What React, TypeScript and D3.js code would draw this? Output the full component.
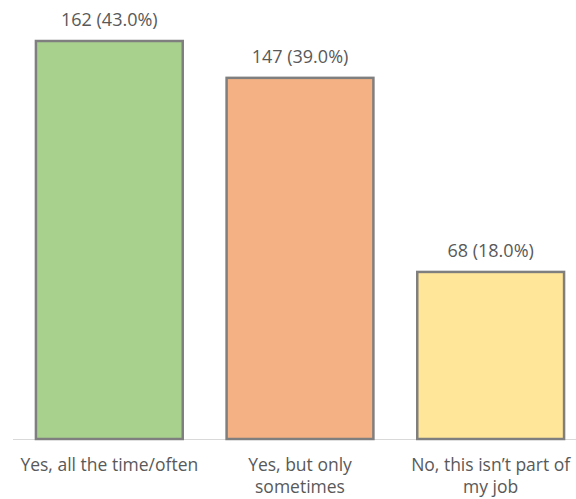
import React from "react";
import * as d3 from "d3";

const categories = [
  ["Yes, all the time/often"],
  ["Yes, but only", "sometimes"],
  ["No, this isn\u2019t part of", "my job"],
];
const counts = [162, 147, 68];
const percents = [43.0, 39.0, 18.0];
const fills = ["#A9D18E", "#F4B183", "#FFE699"];

const W = 576;
const H = 499;
const FONT = "'Open Sans', 'Noto Sans', sans-serif";

export default function App() {
  const x = d3
    .scaleBand<number>()
    .domain(d3.range(counts.length))
    .range([14, 586])
    .paddingInner(0.23)
    .paddingOuter(0.115);
  const y = d3.scaleLinear().domain([0, 162]).range([439, 41]);

  return (
    <svg
      width={W}
      height={H}
      style={{ position: "absolute", left: 0, top: 0, background: "#fff" }}
    >
      <line x1={13} x2={W} y1={y(0) + 0.5} y2={y(0) + 0.5} stroke="#D9D9D9" strokeWidth={1} />
      {counts.map((c, i) => {
        const bx = x(i)!;
        const bw = x.bandwidth();
        return (
          <g key={i}>
            <rect
              x={bx}
              y={y(c)}
              width={bw}
              height={y(0) - y(c)}
              fill={fills[i]}
              stroke="#7F7F7F"
              strokeWidth={2.5}
            />
            <text
              x={bx + bw / 2}
              y={y(c) - 15}
              textAnchor="middle"
              fontFamily={FONT}
              fontSize={18}
              fill="#595959"
            >
              {`${c} (${percents[i].toFixed(1)}%)`}
            </text>
            {categories[i].map((line, j) => (
              <text
                key={j}
                x={bx + bw / 2}
                y={471 + j * 22}
                textAnchor="middle"
                fontFamily={FONT}
                fontSize={17.5}
                fill="#595959"
              >
                {line}
              </text>
            ))}
          </g>
        );
      })}
    </svg>
  );
}
